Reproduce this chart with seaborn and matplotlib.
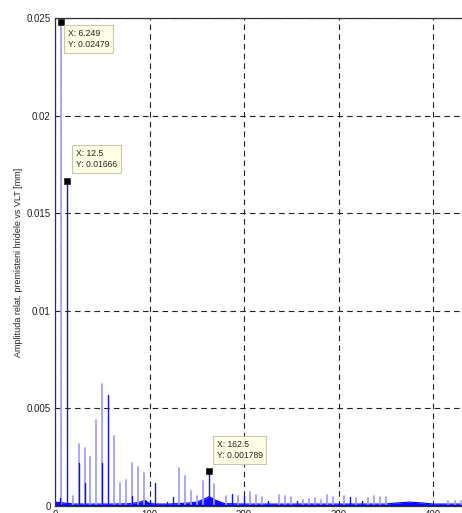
import matplotlib
matplotlib.use("Agg")
import matplotlib.pyplot as plt
import numpy as np
import pandas as pd
import seaborn as sns

# Harmonic spikes of the relative shaft displacement spectrum [Hz, mm]
light_freq = [6.249, 18.75, 25, 31.25, 37.5, 43.75, 50, 62.5, 68.75, 75, 81.25,
              87.5, 93.75, 131.25, 137.5, 143.75, 150, 156.25, 168.75, 181.25,
              193.75, 206.25, 212.5, 218.75, 237.5, 243.75, 250, 262.5, 268.75,
              275, 281.25, 287.5, 293.75, 306.25, 318.75, 331.25, 337.5, 343.75,
              350, 416.25, 423.75, 430.0]
light_amp = [0.02479, 0.0005, 0.00317, 0.00295, 0.00252, 0.0044, 0.00624, 0.00357,
             0.00116, 0.00133, 0.0022, 0.0020, 0.00167, 0.00193, 0.00155, 0.00078,
             0.0005, 0.0013, 0.00112, 0.0005, 0.0005, 0.0007, 0.00055, 0.00045,
             0.00055, 0.0005, 0.00045, 0.0003, 0.00035, 0.0004, 0.0003, 0.00055,
             0.00045, 0.00053, 0.0004, 0.0004, 0.00053, 0.00045, 0.00045, 0.00025,
             0.00025, 0.00025]

dark_freq = [5.0, 12.5, 25, 31.25, 50, 56.25, 81.25, 100, 106.25, 118.75, 125,
             162.5, 187.5, 200, 225, 256.25, 312.5, 325]
dark_amp = [0.0004, 0.01666, 0.0022, 0.0012, 0.0022, 0.00568, 0.0005, 0.0003,
            0.00118, 0.00018, 0.00044, 0.001789, 0.0006, 0.0005, 0.00027,
            0.00027, 0.00045, 0.00027]

# Broadband floor under the spikes
floor_freq = [0, 10, 20, 40, 60, 80, 90, 95, 100, 110, 120, 130, 140, 150, 155,
              160, 163, 166, 170, 175, 180, 200, 250, 300, 350, 360, 375, 390, 400, 431]
floor_amp = [0.0002, 0.00015, 0.0001, 0.0001, 0.0001, 0.00012, 0.0002, 0.0003,
             0.00012, 0.0001, 0.0001, 0.00012, 0.00015, 0.0002, 0.0003, 0.0004,
             0.00048, 0.0004, 0.0003, 0.0002, 0.00012, 0.0001, 0.0001, 0.0001,
             0.0001, 0.00015, 0.0002, 0.00015, 0.0001, 0.0001]

# Data tips
tip_freq = [6.249, 12.5, 162.5]
tip_amp = [0.02479, 0.01666, 0.001789]
tip_text = ["X: 6.249\nY: 0.02479", "X: 12.5\nY: 0.01666", "X: 162.5\nY: 0.001789"]

y_ticks = [0, 0.005, 0.01, 0.015, 0.02, 0.025]
y_tick_labels = ["0", "0.005", "0.01", "0.015", "0.02", "0.025"]
x_ticks = [0, 100, 200, 300, 400]
y_label = "Amplituda relat. premisteni hridele vs VLT [mm]"

sns.set_style("white")
plt.rcParams["font.family"] = ["Liberation Sans", "DejaVu Sans"]
plt.rcParams["lines.scale_dashes"] = False

rows = []
uid = 0
for trace, fs, amps in (("light", light_freq, light_amp), ("dark", dark_freq, dark_amp)):
    for f, a in zip(fs, amps):
        rows.append({"f": f, "amp": 0.0, "spike": uid, "trace": trace})
        rows.append({"f": f, "amp": a, "spike": uid, "trace": trace})
        uid += 1
spikes = pd.DataFrame(rows)
floor = pd.DataFrame({"f": floor_freq, "amp": floor_amp})

fig = plt.figure(figsize=(4.62, 5.13), dpi=100)
ax = fig.add_axes([55 / 462, 7 / 513, 1 - 55 / 462, (506 - 18) / 513])

ax.fill_between(floor["f"], 0, floor["amp"], color="#1010ff", lw=0)
sns.lineplot(data=floor, x="f", y="amp", color="#0000ff", lw=0.8, ax=ax)
sns.lineplot(data=spikes[spikes.trace == "light"], x="f", y="amp", units="spike",
             estimator=None, color="#a0a0ff", lw=1.3, sort=False, ax=ax)
sns.lineplot(data=spikes[spikes.trace == "dark"], x="f", y="amp", units="spike",
             estimator=None, color="#1010ff", lw=1.0, sort=False, ax=ax)
ax.plot([0, 431], [0, 0], color="#0000ff", lw=1.6)

ax.set_xlim(0, (462 - 55) / 0.945)
ax.set_ylim(0, 0.025)
ax.set_yticks(y_ticks)
ax.set_yticklabels(y_tick_labels)
ax.set_xticks(x_ticks)
ax.tick_params(direction="in", length=3, labelsize=7, colors="#222222", pad=3)
ax.set_xlabel("")
ax.set_ylabel(y_label, fontsize=6.5, color="#222222")
ax.yaxis.set_label_coords(-0.078, 0.5)
ax.grid(True, color="#222222", linestyle=(0, (4, 3)), lw=0.8)
for side in ("top", "left", "bottom"):
    ax.spines[side].set_color("#333333")
    ax.spines[side].set_linewidth(0.9)
ax.spines["right"].set_visible(False)

sns.scatterplot(x=tip_freq, y=tip_amp, marker="s", s=22, color="black",
                edgecolor="black", ax=ax, zorder=6, clip_on=False)
offsets = [((7, -7), "top"), ((9, 12), "bottom"), ((8, 11), "bottom")]
for f, a, t, (off, va) in zip(tip_freq, tip_amp, tip_text, offsets):
    ax.annotate(t, xy=(f, a), xytext=off, textcoords="offset pixels",
                ha="left", va=va, fontsize=6.2, color="#222222", zorder=7,
                linespacing=1.3,
                bbox=dict(boxstyle="square,pad=0.45", fc="#ffffe6", ec="#c8c8b0", lw=0.8))

fig.savefig("out.png", dpi=100)
